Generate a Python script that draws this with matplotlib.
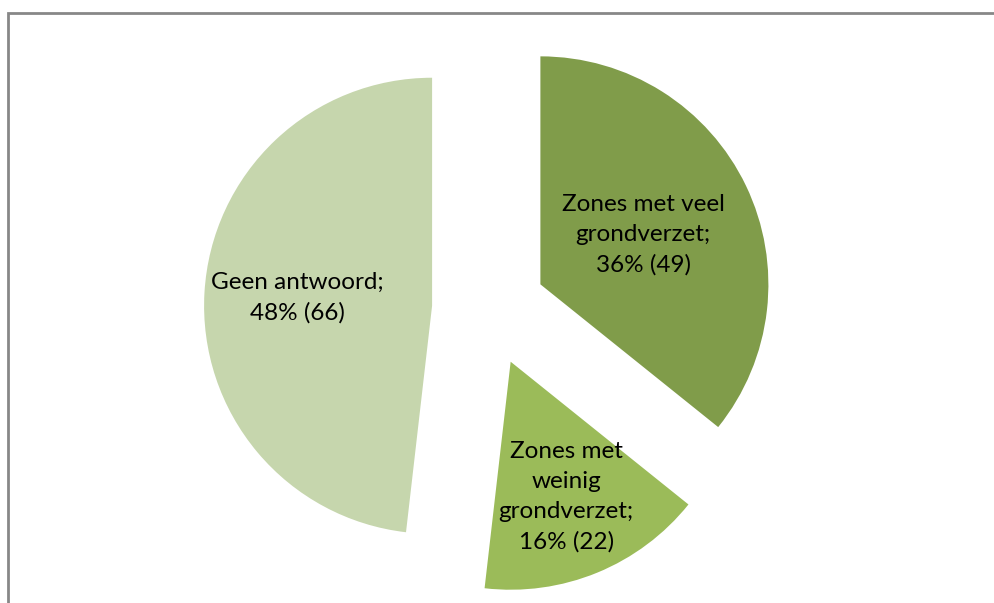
import numpy as np
import matplotlib
matplotlib.use("Agg")
import matplotlib.pyplot as plt

# Data
categories = ["Zones met veel\ngrondverzet;", "Zones met\nweinig\ngrondverzet;", "Geen antwoord;"]
counts = [49, 22, 66]
pct_labels = ["36% (49)", "16% (22)", "48% (66)"]
colors = ["#809C4A", "#9BBB59", "#C6D6AD"]

W, H = 995, 603
fig = plt.figure(figsize=(W / 100, H / 100), dpi=100)
ax = fig.add_axes([0, 0, 1, 1])

center = (489, H - 309)
radius = 228
explode = [57, 57, 57]

wedges, _ = ax.pie(counts, colors=colors, startangle=90, counterclock=False,
                   radius=radius, center=center, explode=explode,
                   wedgeprops=dict(linewidth=0))

ax.set_xlim(0, W)
ax.set_ylim(0, H)
ax.set_aspect("auto")
ax.axis("off")

label_dist = [0.50, 0.64, 0.59]
for w, cat, pl, ld in zip(wedges, categories, pct_labels, label_dist):
    th = np.deg2rad((w.theta1 + w.theta2) / 2)
    cx, cy = w.center
    x = cx + ld * radius * np.cos(th)
    y = cy + ld * radius * np.sin(th)
    ax.text(x, y, cat + "\n" + pl, ha="center", va="center",
            fontsize=17.5, family=["Lato", "DejaVu Sans"], color="black",
            linespacing=1.52)

# chart frame (partial, cropped)
ax.plot([8, 8, W], [0, H - 13, H - 13], color="#878787", lw=2,
        solid_joinstyle="miter", clip_on=False)

fig.savefig("out.png", dpi=100)
